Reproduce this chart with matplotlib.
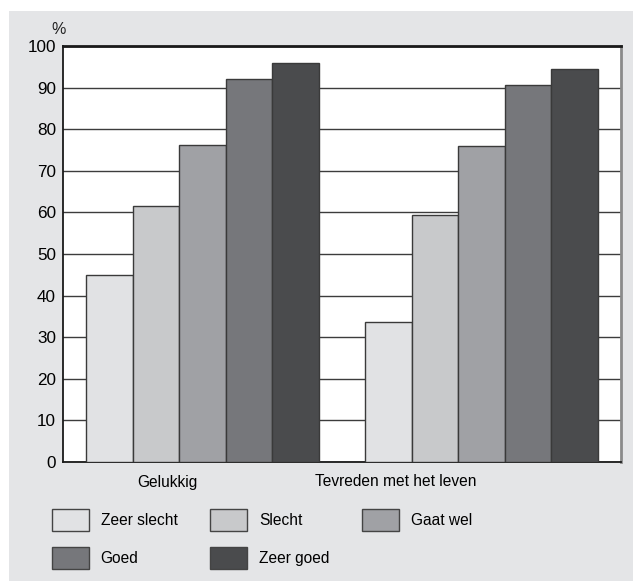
import numpy as np
import matplotlib
matplotlib.use('Agg')
import matplotlib.pyplot as plt
from matplotlib.patches import Rectangle, Patch
from matplotlib.transforms import ScaledTranslation

plt.rcParams['font.family'] = ['Liberation Sans', 'DejaVu Sans']

# Data
categories = ['Gelukkig', 'Tevreden met het leven']
series = ['Zeer slecht', 'Slecht', 'Gaat wel', 'Goed', 'Zeer goed']
values = {
    'Zeer slecht': [45.0, 33.7],
    'Slecht': [61.5, 59.4],
    'Gaat wel': [76.3, 76.0],
    'Goed': [92.0, 90.7],
    'Zeer goed': [96.0, 94.4],
}
colors = ['#e1e2e4', '#c8c9cb', '#a0a1a5', '#76777b', '#4a4b4d']
yticks = np.arange(0, 101, 10)

W, H = 633, 581
fig = plt.figure(figsize=(W / 100, H / 100), dpi=100)
fig.patch.set_facecolor('white')

# grey panel behind everything
fig.patches.append(Rectangle((9 / W, 0), 1 - 9 / W, 1 - 11 / H,
                             transform=fig.transFigure, facecolor='#e4e5e7',
                             edgecolor='none', zorder=-10))

ax = fig.add_axes([63 / W, 1 - 462 / H, (621 - 63) / W, (462 - 46) / H])
ax.set_facecolor('white')

x = np.arange(len(categories))
width = 1 / 6
for i, (name, col) in enumerate(zip(series, colors)):
    offs = (i - 2) * width
    ax.bar(x + offs, values[name], width, color=col, edgecolor='#3a3a3a',
           linewidth=1.0, zorder=3)

ax.set_xlim(-0.5, 1.5)
ax.set_ylim(0, 100)
ax.set_yticks(yticks)
ax.tick_params(axis='y', length=0, pad=5, labelsize=12.3)
ax.grid(axis='y', color='#3c3c3c', linewidth=1.0, zorder=1)
ax.set_axisbelow(True)

ax.set_xticks(x)
ax.set_xticklabels(categories, fontsize=11.2)
ax.tick_params(axis='x', length=0, pad=9)
shift = ScaledTranslation(-5 / 100, 0, fig.dpi_scale_trans)
for lab in ax.get_xticklabels():
    lab.set_horizontalalignment('right')
    lab.set_transform(lab.get_transform() + shift)

for side in ['left', 'bottom', 'top']:
    ax.spines[side].set_color('#1a1a1a')
ax.spines['top'].set_linewidth(2.0)
ax.spines['left'].set_linewidth(1.3)
ax.spines['bottom'].set_linewidth(1.3)
ax.spines['right'].set_color('#8a8a8a')
ax.spines['right'].set_linewidth(2.0)

fig.text(58.5 / W, 1 - 29.5 / H, '%', fontsize=11.5, ha='center', va='center',
         color='#222222')

# legend, row-major order in a column-major filled legend
handles = [Patch(facecolor=c, edgecolor='#444444', linewidth=1.0) for c in colors]
order = [0, 3, 1, 4, 2]
fig.legend([handles[k] for k in order], [series[k] for k in order],
           loc='upper left', bbox_to_anchor=(52 / W, 1 - 509 / H),
           ncol=3, frameon=False, fontsize=11.2, borderpad=0, borderaxespad=0,
           handlelength=2.38, handleheight=1.8, handletextpad=0.75,
           columnspacing=2.1, labelspacing=1.0)

fig.savefig('out.png', dpi=100)
